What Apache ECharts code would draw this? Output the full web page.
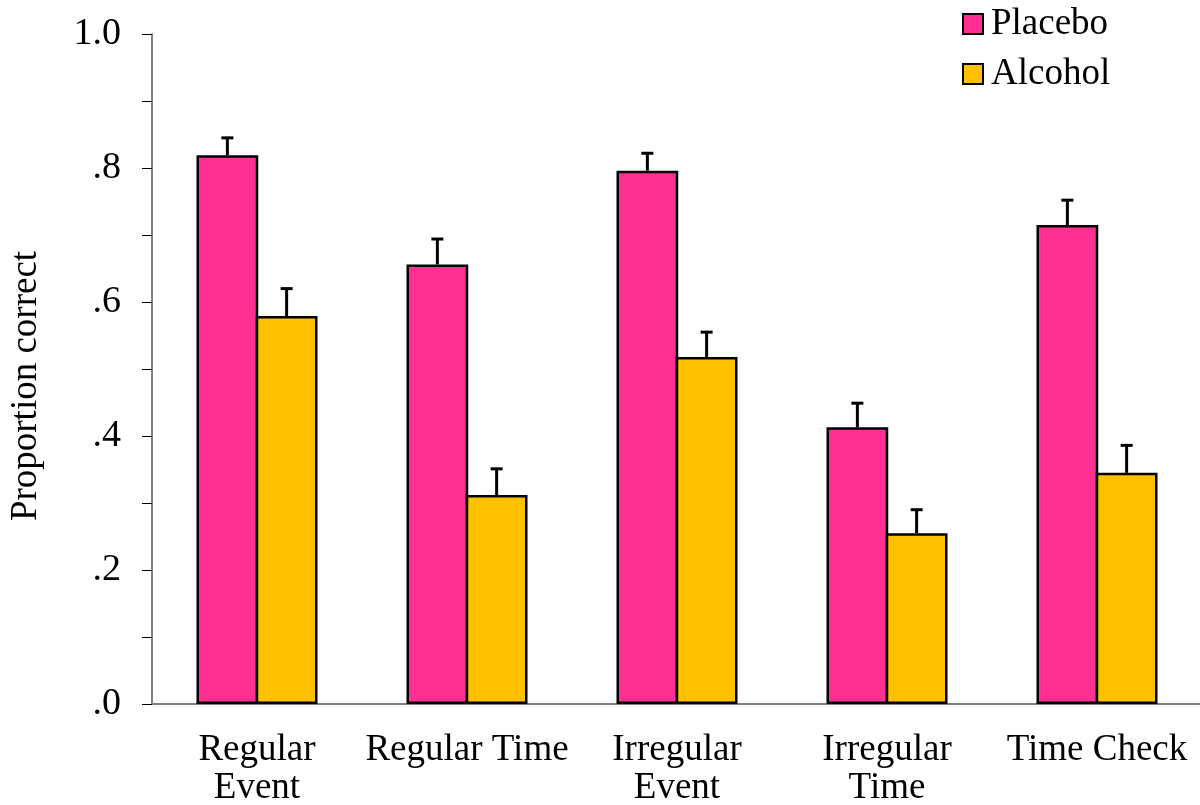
<!DOCTYPE html>
<html>
<head>
<meta charset="utf-8">
<script src="https://cdn.jsdelivr.net/npm/echarts@6/dist/echarts.min.js"></script>
<style>
html,body{margin:0;padding:0;background:#fff;}
#chart{width:1200px;height:805px;}
</style>
</head>
<body>
<div id="chart"></div>
<script>
const categories = ['Regular\nEvent', 'Regular Time', 'Irregular\nEvent', 'Irregular\nTime', 'Time Check'];
const seriesNames = ['Placebo', 'Alcohol'];
const placebo = [0.819, 0.656, 0.796, 0.413, 0.715];
const placeboErr = [0.026, 0.038, 0.026, 0.036, 0.037];
const alcohol = [0.579, 0.312, 0.518, 0.255, 0.345];
const alcoholErr = [0.041, 0.039, 0.037, 0.035, 0.041];
const yTickLabels = {0: '.0', 2: '.2', 4: '.4', 6: '.6', 8: '.8', 10: '1.0'};

const FONT = "'Liberation Serif', 'Times New Roman', serif";
const PINK = '#FF3091';
const GOLD = '#FFC000';
const BORDER = 2.5;
const BAR_W = 61.75;
const BAR_GAP = (-BORDER / BAR_W * 100) + '%';

function errSeries(values, errs, side) {
  return {
    type: 'custom',
    z: 5,
    silent: true,
    data: values.map((v, i) => [i, v, v + errs[i]]),
    renderItem: function (params, api) {
      const idx = api.value(0);
      const base = api.coord([idx, api.value(1)]);
      const top = api.coord([idx, api.value(2)]);
      const x = base[0] + side * (BAR_W - BORDER) / 2;
      const cap = 6;
      const style = {stroke: '#000', lineWidth: 3, fill: null};
      return {
        type: 'group',
        children: [
          {type: 'line', shape: {x1: x, y1: base[1], x2: x, y2: top[1]}, style: style},
          {type: 'line', shape: {x1: x - cap, y1: top[1], x2: x + cap, y2: top[1]}, style: style}
        ]
      };
    }
  };
}

const chart = echarts.init(document.getElementById('chart'));
chart.setOption({
  animation: false,
  backgroundColor: '#fff',
  textStyle: {fontFamily: FONT},
  grid: {left: 152, top: 34, width: 1050, bottom: 101, containLabel: false, outerBoundsMode: 'none'},
  legend: {
    orient: 'vertical',
    left: 962,
    top: 4,
    padding: 0,
    itemWidth: 20,
    itemHeight: 20,
    itemGap: 10,
    icon: 'rect',
    data: seriesNames,
    textStyle: {fontFamily: FONT, fontSize: 37, color: '#000', lineHeight: 40, padding: [0, 0, 0, 3]},
    itemStyle: {borderColor: '#000', borderWidth: 2}
  },
  xAxis: {
    type: 'category',
    data: categories,
    axisLine: {lineStyle: {color: '#808080', width: 2}},
    axisTick: {show: false},
    axisLabel: {fontFamily: FONT, fontSize: 37, color: '#000', lineHeight: 38, margin: 27, interval: 0}
  },
  yAxis: {
    type: 'value',
    min: 0,
    max: 1,
    interval: 0.1,
    name: 'Proportion correct',
    nameLocation: 'middle',
    nameRotate: 90,
    nameGap: 107,
    nameTextStyle: {fontFamily: FONT, fontSize: 37, color: '#000', padding: [0, 34, 0, 0]},
    splitLine: {show: false},
    axisLine: {show: true, lineStyle: {color: '#808080', width: 2}},
    axisTick: {show: true, length: 10, lineStyle: {color: '#000', width: 1}},
    axisLabel: {
      fontFamily: FONT, fontSize: 38, color: '#000', margin: 31,
      formatter: function (v) {
        const k = Math.round(v * 10);
        return yTickLabels[k] !== undefined ? yTickLabels[k] : '';
      }
    }
  },
  series: [
    {
      name: seriesNames[0], type: 'bar', data: placebo,
      barGap: BAR_GAP, barWidth: BAR_W,
      itemStyle: {color: PINK, borderColor: '#000', borderWidth: BORDER}
    },
    {
      name: seriesNames[1], type: 'bar', data: alcohol,
      barGap: BAR_GAP, barWidth: BAR_W,
      itemStyle: {color: GOLD, borderColor: '#000', borderWidth: BORDER}
    },
    errSeries(placebo, placeboErr, -1),
    errSeries(alcohol, alcoholErr, 1)
  ]
});
</script>
</body>
</html>
